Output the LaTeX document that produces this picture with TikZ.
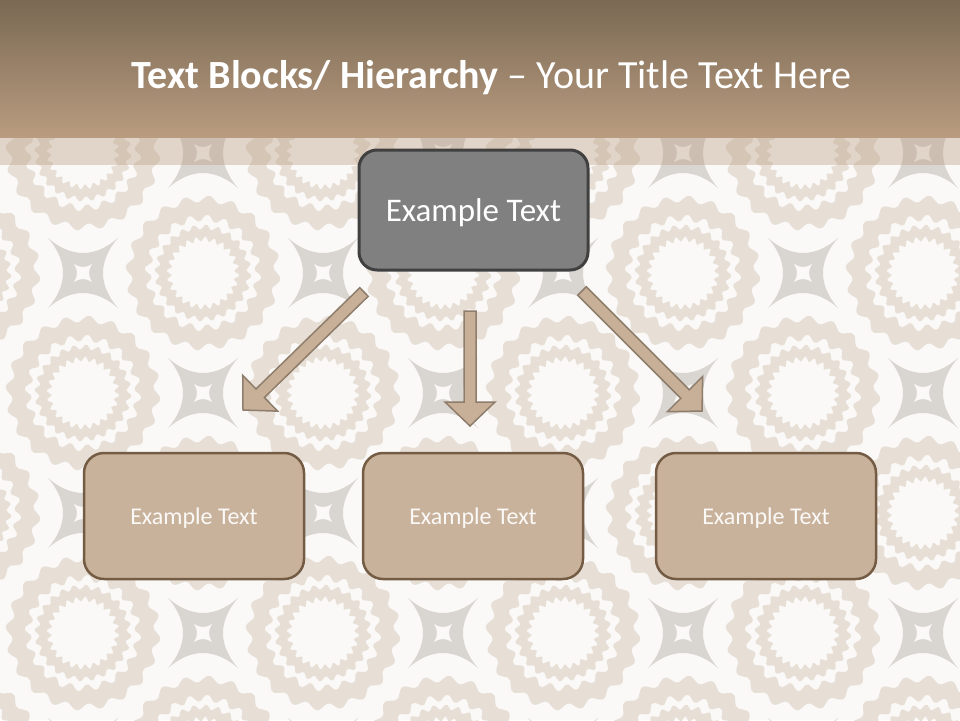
\documentclass[tikz,border=0pt]{standalone}
\usepackage{fontspec}
\setmainfont{Carlito}
\usepackage{tikz}
\usetikzlibrary{calc}

\definecolor{titleDark}{HTML}{7A6953}
\definecolor{titleLight}{HTML}{B99C80}
\definecolor{paper}{HTML}{FAF9F7}
\definecolor{patBeige}{HTML}{E7DFD6}
\definecolor{patGray}{HTML}{D9D5D1}
\definecolor{rootFill}{HTML}{808080}
\definecolor{rootLine}{HTML}{404040}
\definecolor{leafFill}{HTML}{C9B29B}
\definecolor{leafLine}{HTML}{745B44}
\definecolor{arrowFill}{HTML}{C8B098}
\definecolor{arrowLine}{HTML}{8E7D6B}

\tikzset{
    % Block styles
    block/.style={rectangle, draw, align=center, text=white, text depth=0pt},
    root block/.style={block, fill=rootFill, draw=rootLine, line width=3pt,
                       rounded corners=18pt, minimum width=229pt, minimum height=120pt,
                       font=\fontsize{33}{39}\selectfont},
    leaf block/.style={block, fill=leafFill, draw=leafLine, line width=2.5pt,
                       rounded corners=20pt, minimum width=220pt, minimum height=126pt,
                       text=white!92!leafFill, font=\fontsize{24}{29}\selectfont},
    % Arrow styles
    block arrow/.style={fill=arrowFill, draw=arrowLine, line width=1.5pt, line join=miter},
    % Pattern styles
    gear band/.style={fill=patBeige, even odd rule},
    star tile/.style={fill=patGray},
}

\begin{document}
\begin{tikzpicture}[x=1pt, y=-1pt]
    \useasboundingbox (0,0) rectangle (960,720);
    \clip (0,0) rectangle (960,720);

    % Background pattern
    \fill[paper] (0,0) rectangle (960,720);
    \foreach \i in {-1,...,7} {
        \foreach \j in {-1,...,4} {
            \pgfmathtruncatemacro{\odd}{mod(\i+\j+10,2)}
            \pgfmathsetmacro{\cx}{83+120*\i}
            \pgfmathsetmacro{\cy}{273+120*\j}
            \begin{scope}[shift={(\cx,\cy)}]
                \ifnum\odd=1
                    \fill[gear band] plot[smooth cycle, domain=0:357, samples=120] (\x:{74+3.5*sin(20*\x)})
                        plot[smooth cycle, domain=0:357, samples=120] (\x:{55+3.5*sin(20*\x)});
                    \fill[gear band] plot[smooth cycle, domain=0:357.5, samples=144] (\x:{46+2.5*sin(24*\x)})
                        plot[smooth cycle, domain=0:357.5, samples=144] (\x:{34+2.5*sin(24*\x)});
                \else
                    \fill[star tile] (-35,-35) .. controls (-12,-15) and (12,-15) .. (35,-35)
                        .. controls (15,-12) and (15,12) .. (35,35)
                        .. controls (12,15) and (-12,15) .. (-35,35)
                        .. controls (-15,12) and (-15,-12) .. cycle;
                    \fill[paper] (-9,-9) .. controls (-3,-5) and (3,-5) .. (9,-9)
                        .. controls (5,-3) and (5,3) .. (9,9)
                        .. controls (3,5) and (-3,5) .. (-9,9)
                        .. controls (-5,3) and (-5,-3) .. cycle;
                \fi
            \end{scope}
        }
    }

    % Title bar
    \shade[top color=titleDark, bottom color=titleLight] (0,0) rectangle (960,137);
    \fill[titleLight, opacity=0.38] (0,137) rectangle (960,165);
    \node[anchor=base, text=white, font=\fontsize{40}{48}\selectfont] (title) at (491.5,88)
        {\textbf{Text Blocks/ Hierarchy} \textendash{} Your Title Text Here};

    % Blocks
    \node[root block] (root) at (473.5,210) {Example Text};
    \node[leaf block] (leafL) at (194,516) {Example Text};
    \node[leaf block] (leafM) at (473,516) {Example Text};
    \node[leaf block] (leafR) at (766,516) {Example Text};

    % Arrows
    \coordinate (srcL) at (364,292);
    \coordinate (tipL) at (243,410);
    \coordinate (srcM) at (470,311);
    \coordinate (tipM) at (470,426);
    \coordinate (srcR) at (582,291);
    \coordinate (tipR) at (702,411);
    \foreach \s/\t in {srcL/tipL, srcM/tipM, srcR/tipR} {
        \coordinate (hb) at ($(\t)!24pt!(\s)$);
        \draw[block arrow] ($(\s)!6pt!90:(\t)$) -- ($(hb)!6pt!90:(\t)$) -- ($(hb)!25pt!90:(\t)$) -- (\t)
            -- ($(hb)!25pt!-90:(\t)$) -- ($(hb)!6pt!-90:(\t)$) -- ($(\s)!6pt!-90:(\t)$) -- cycle;
    }
\end{tikzpicture}
\end{document}
